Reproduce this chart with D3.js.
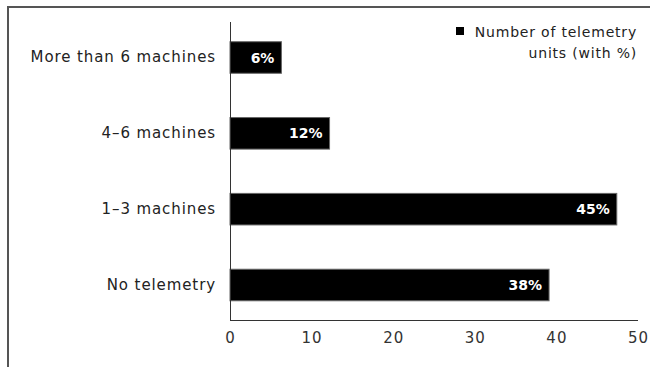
<!DOCTYPE html>
<html><head><meta charset="utf-8">
<script src="https://cdn.jsdelivr.net/npm/d3@7"></script>
<style>body{margin:0;background:#fff}svg{display:block}</style>
</head><body>
<svg id="c" width="650" height="367"></svg>
<script>
const categories = ["More than 6 machines", "4–6 machines", "1–3 machines", "No telemetry"];
const values = [6.3, 12.2, 47.4, 39.1];
const pctLabels = ["6%", "12%", "45%", "38%"];
const xTicks = [0, 10, 20, 30, 40, 50];
const legendLines = ["Number of telemetry", "units (with %)"];

const svg = d3.select("#c");
// outer frame
svg.append("rect").attr("x", 8).attr("y", 7).attr("width", 700).attr("height", 400)
  .attr("fill", "none").attr("stroke", "#555").attr("stroke-width", 2);

const x = d3.scaleLinear().domain([0, 50]).range([230, 638]);
const y = d3.scaleBand().domain(categories).range([22, 320.5]).paddingInner(0.584).paddingOuter(0.26);

svg.selectAll("rect.bar").data(values).join("rect").attr("class", "bar")
  .attr("x", x(0)).attr("y", (d, i) => y(categories[i]))
  .attr("width", d => x(d) - x(0)).attr("height", y.bandwidth())
  .attr("fill", "#000").attr("stroke", "#666").attr("stroke-width", 1);

svg.selectAll("text.val").data(values).join("text").attr("class", "val")
  .attr("x", d => x(d) - 7).attr("y", (d, i) => y(categories[i]) + y.bandwidth() / 2)
  .attr("dy", "0.36em").attr("text-anchor", "end")
  .attr("font-family", "DejaVu Sans").attr("font-weight", "bold").attr("font-size", 14)
  .attr("fill", "#fff").text((d, i) => pctLabels[i]);

// y axis
const ya = svg.append("g").attr("transform", `translate(${x(0)},0)`)
  .call(d3.axisLeft(y).tickSize(0).tickPadding(14));
ya.select(".domain").attr("stroke", "#333").attr("d", `M0.5,22V320.5`);
ya.selectAll("text").attr("font-family", "DejaVu Sans").attr("font-size", 15)
  .attr("letter-spacing", "0.9px").attr("fill", "#222");

// x axis
const xa = svg.append("g").attr("transform", `translate(0,320.5)`)
  .call(d3.axisBottom(x).tickValues(xTicks).tickSize(0).tickPadding(12));
xa.select(".domain").attr("stroke", "#333").attr("d", `M230,0H638`);
xa.selectAll("text").attr("font-family", "DejaVu Sans").attr("font-size", 15)
  .attr("letter-spacing", "1px").attr("fill", "#333");

// legend
const lg = svg.append("g");
lg.append("rect").attr("x", 456).attr("y", 27).attr("width", 8).attr("height", 8).attr("fill", "#000");
lg.selectAll("text").data(legendLines).join("text")
  .attr("x", 637).attr("y", (d, i) => 37 + i * 21).attr("text-anchor", "end")
  .attr("font-family", "DejaVu Sans").attr("font-size", 14).attr("letter-spacing", "0.8px")
  .attr("fill", "#222").text(d => d);
</script>
</body></html>
